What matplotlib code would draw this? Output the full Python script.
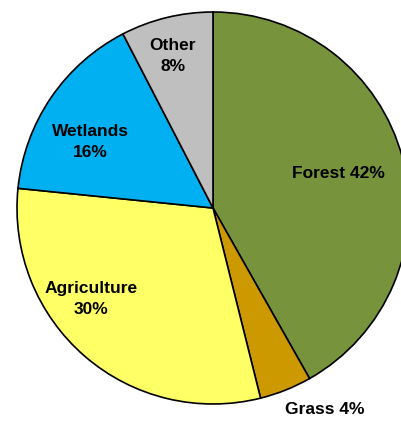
import matplotlib.pyplot as plt

labels = ["Forest 42%", "Grass 4%", "Agriculture\n30%", "Wetlands\n16%", "Other\n8%"]
# shares as drawn in the reference (slightly off the rounded labels)
values = [41.8, 4.3, 30.5, 15.8, 7.6]
colors = ["#77933C", "#CC9900", "#FFFF66", "#00B0F0", "#BFBFBF"]
label_pos = [(338, 173), (325, 409), (91, 299), (90, 142), (173, 56)]

plt.rcParams["font.family"] = ["Liberation Sans", "DejaVu Sans"]

fig = plt.figure(figsize=(4.01, 4.22), dpi=100)
ax = fig.add_axes([0, 0, 1, 1])
ax.pie(values, colors=colors, startangle=90, counterclock=False,
       center=(213, -208), radius=196,
       wedgeprops={"edgecolor": "black", "linewidth": 1.2})
ax.set_xlim(0, 401)
ax.set_ylim(-422, 0)
ax.set_aspect("equal")
ax.axis("off")

for text, (x, y) in zip(labels, label_pos):
    ax.text(x, -y, text, ha="center", va="center", fontsize=12.5,
            fontweight="bold", linespacing=1.45)

fig.savefig("out.png", dpi=100)
